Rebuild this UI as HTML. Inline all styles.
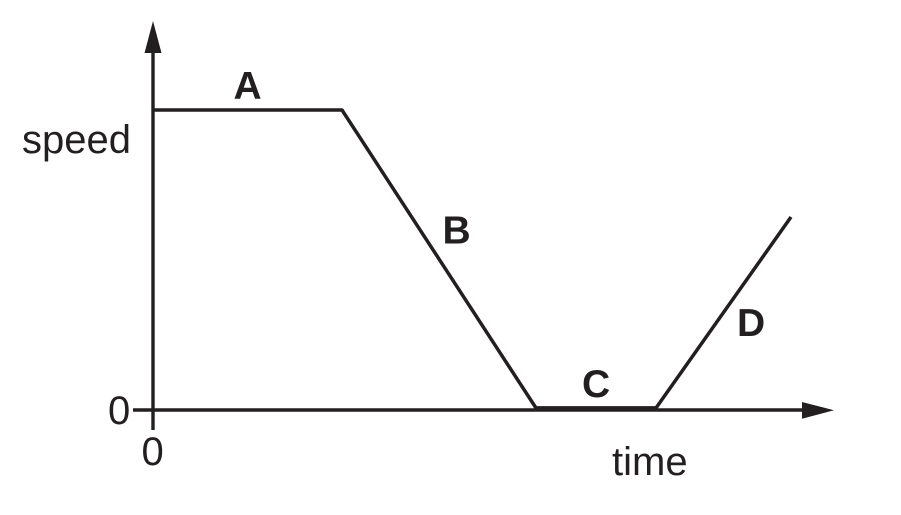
<!DOCTYPE html>
<html>
<head>
<meta charset="utf-8">
<style>
html,body{margin:0;padding:0;background:#fff;width:901px;height:515px;overflow:hidden}
svg{display:block}
text{font-family:"Liberation Sans",Arial,sans-serif;fill:#231f20}
</style>
</head>
<body>
<svg width="901" height="515" viewBox="0 0 901 515" xmlns="http://www.w3.org/2000/svg">
<line x1="153" y1="48" x2="153" y2="430" stroke="#231f20" stroke-width="3.4"/>
<polygon points="153,21 144.5,53 161.5,53" fill="#231f20"/>
<line x1="133" y1="410" x2="805" y2="410" stroke="#231f20" stroke-width="3.4"/>
<polygon points="834,410.3 802,402 802,418.7" fill="#231f20"/>
<polyline points="153,110 342,110 536,408 656,408 791,217" fill="none" stroke="#231f20" stroke-width="3.5" stroke-linejoin="round"/>
<line x1="536" y1="408.7" x2="656" y2="408.7" stroke="#231f20" stroke-width="5"/>
<text x="22" y="153" font-size="40">speed</text>
<text x="108" y="424" font-size="40">0</text>
<text x="141.5" y="465" font-size="40">0</text>
<text x="612" y="475" font-size="40">time</text>
<text x="233.5" y="99" font-size="39" font-weight="bold">A</text>
<text x="442.5" y="243.5" font-size="39" font-weight="bold">B</text>
<text x="582" y="397" font-size="39" font-weight="bold">C</text>
<text x="737" y="336" font-size="39" font-weight="bold">D</text>
</svg>
</body>
</html>
